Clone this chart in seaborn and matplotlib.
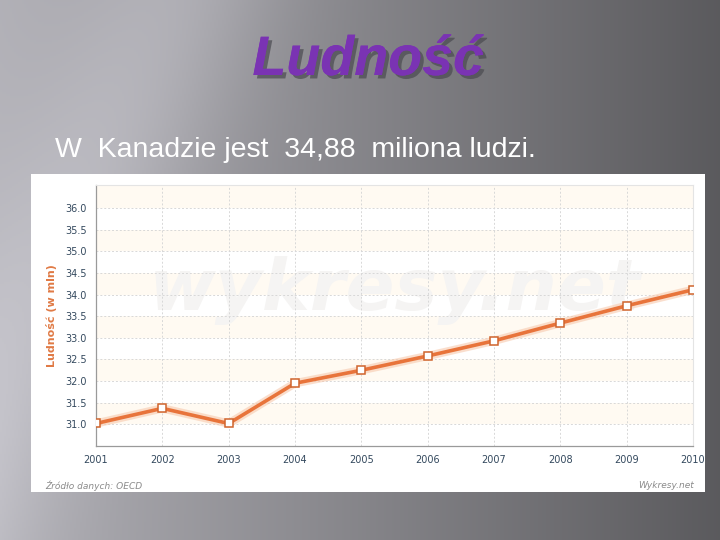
import numpy as np
import pandas as pd
import seaborn as sns
import matplotlib.pyplot as plt
import matplotlib.patheffects as pe
from matplotlib.patches import Rectangle

# data
years = [2001, 2002, 2003, 2004, 2005, 2006, 2007, 2008, 2009, 2010]
population = [31.02, 31.37, 31.02, 31.95, 32.25, 32.58, 32.93, 33.34, 33.74, 34.11]
y_ticks = [31.0, 31.5, 32.0, 32.5, 33.0, 33.5, 34.0, 34.5, 35.0, 35.5, 36.0]

title = "Ludność"
subtitle = "W  Kanadzie jest  34,88  miliona ludzi."
y_label = "Ludność (w mln)"
source = "Źródło danych: OECD"
credit = "Wykresy.net"
watermark = "wykresy.net"


def main():
    sns.set_theme(style="white")
    plt.rcParams['font.family'] = ['DejaVu Sans']

    fig = plt.figure(figsize=(7.2, 5.4), dpi=100)

    # slide background: grey gradient, lighter on the left
    bg = fig.add_axes([0, 0, 1, 1], zorder=-10)
    gx, gy = np.meshgrid(np.linspace(0, 1, 360), np.linspace(0, 1, 270))
    shade = 0.70 - 0.34 * gx + 0.08 * np.exp(-((gx - 0.25 + 0.35 * gy) ** 2) / 0.02)
    shade = np.clip(shade, 0, 1)
    rgb = np.dstack([shade * 0.99, shade * 0.985, shade * 1.02])
    bg.imshow(np.clip(rgb, 0, 1), aspect='auto', extent=[0, 1, 0, 1], origin='upper')
    bg.set_xlim(0, 1)
    bg.set_ylim(0, 1)
    bg.axis('off')

    # white chart panel
    bg.add_patch(Rectangle((31 / 720, 1 - 492 / 540), (705 - 31) / 720, (492 - 174) / 540,
                           facecolor='white', edgecolor='none', zorder=2))

    # title and subtitle
    fig.text(368 / 720, 1 - 75 / 540, title, ha='center', va='baseline', fontsize=40,
             fontweight='bold', fontstyle='italic', color='#7a33b3',
             family=['Liberation Sans', 'DejaVu Sans'],
             path_effects=[pe.withSimplePatchShadow(offset=(2.5, -2.5), shadow_rgbFace='#4a4a50', alpha=0.7),
                           pe.Normal()])
    fig.text(55 / 720, 1 - 157 / 540, subtitle, ha='left', va='baseline', fontsize=20.5,
             color='white', family=['Liberation Sans', 'DejaVu Sans'])

    # chart
    ax = fig.add_axes([96 / 720, 1 - 446 / 540, (693 - 96) / 720, (446 - 185) / 540])
    ax.set_xlim(2001, 2010)
    ax.set_ylim(30.5, 36.53)
    ax.set_facecolor('white')

    # alternating cream bands
    for t in y_ticks:
        if t == int(t):
            ax.axhspan(t, t + 0.5, color='#fffaf2', zorder=0, lw=0)

    ax.text(2005.5, 34.1, watermark, ha='center', va='center', fontsize=52,
            fontweight='bold', fontstyle='italic', color='#f5f4f3', zorder=0.5)

    df = pd.DataFrame({'year': years, 'value': population})
    sns.lineplot(data=df, x='year', y='value', ax=ax, color='#f7c9ad', lw=6,
                 alpha=0.6, zorder=2)
    sns.lineplot(data=df, x='year', y='value', ax=ax, color='#e8743b', lw=2.6,
                 marker='s', markersize=6, markerfacecolor='white',
                 markeredgecolor='#d0652e', markeredgewidth=1.1, zorder=3)

    ax.set_xticks(years)
    ax.set_xticklabels([str(y) for y in years])
    ax.set_yticks(y_ticks)
    ax.set_yticklabels([f"{t:.1f}" for t in y_ticks])
    ax.tick_params(axis='both', labelsize=7, colors='#34495e', length=3, width=0.6)
    ax.tick_params(axis='both', color='#999999')
    ax.grid(True, linestyle=(0, (2, 2)), color='#d8d8d8', lw=0.7)
    for side in ['top', 'right']:
        ax.spines[side].set_color('#e4e4e4')
        ax.spines[side].set_linewidth(0.8)
    for side in ['left', 'bottom']:
        ax.spines[side].set_color('#9a9a9a')
        ax.spines[side].set_linewidth(0.9)

    ax.set_xlabel('')
    ax.set_ylabel(y_label, color='#e07a45', fontsize=8, fontweight='bold', labelpad=6)

    fig.text(45 / 720, 1 - 486 / 540, source, fontsize=6.5, fontstyle='italic',
             color='#8a8a8a', va='center', ha='left')
    fig.text(694 / 720, 1 - 486 / 540, credit, fontsize=6.5, fontstyle='italic',
             color='#8a8a8a', va='center', ha='right')

    fig.savefig('out.png', dpi=100)


if __name__ == "__main__":
    main()
